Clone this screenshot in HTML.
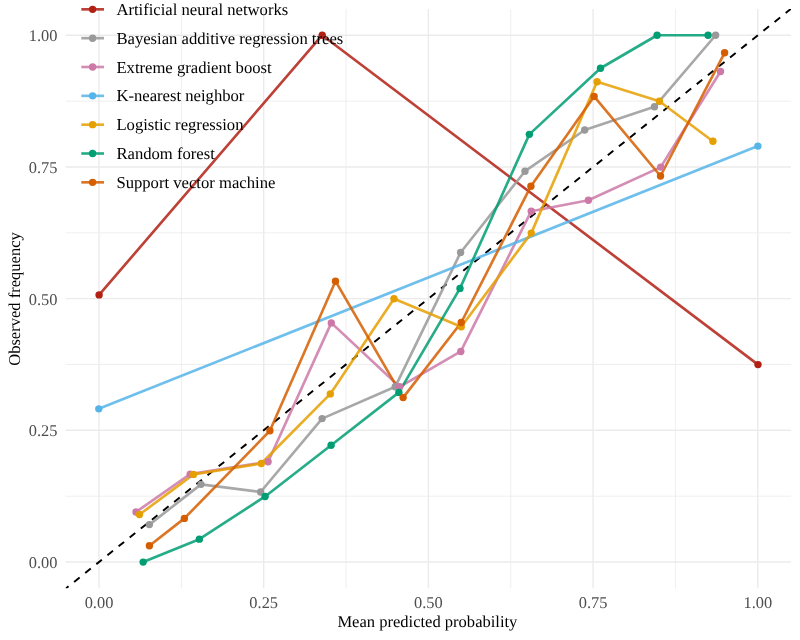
<!DOCTYPE html>
<html lang="en"><head><meta charset="utf-8"><title>Calibration plot</title>
<style>html,body{margin:0;padding:0;background:#fff}body{width:800px;height:640px;overflow:hidden}svg{display:block;will-change:transform;opacity:0.999}text{font-family:"Liberation Serif",serif;text-rendering:geometricPrecision}</style></head><body>
<svg width="800" height="640" viewBox="0 0 800 640">
<rect width="800" height="640" fill="#fff"/>
<defs><clipPath id="pc"><rect x="65.6" y="9.0" width="725.4" height="579.3"/></clipPath></defs>
<g stroke="#EBEBEB" fill="none">
<line x1="65.6" x2="791.0" y1="496.16" y2="496.16" stroke-width="0.8"/>
<line y1="9.0" y2="588.3" x1="181.35" x2="181.35" stroke-width="0.8"/>
<line x1="65.6" x2="791.0" y1="364.49" y2="364.49" stroke-width="0.8"/>
<line y1="9.0" y2="588.3" x1="346.05" x2="346.05" stroke-width="0.8"/>
<line x1="65.6" x2="791.0" y1="232.81" y2="232.81" stroke-width="0.8"/>
<line y1="9.0" y2="588.3" x1="510.75" x2="510.75" stroke-width="0.8"/>
<line x1="65.6" x2="791.0" y1="101.14" y2="101.14" stroke-width="0.8"/>
<line y1="9.0" y2="588.3" x1="675.45" x2="675.45" stroke-width="0.8"/>
<line x1="65.6" x2="791.0" y1="562.00" y2="562.00" stroke-width="1.4"/>
<line y1="9.0" y2="588.3" x1="99.00" x2="99.00" stroke-width="1.4"/>
<line x1="65.6" x2="791.0" y1="430.32" y2="430.32" stroke-width="1.4"/>
<line y1="9.0" y2="588.3" x1="263.70" x2="263.70" stroke-width="1.4"/>
<line x1="65.6" x2="791.0" y1="298.65" y2="298.65" stroke-width="1.4"/>
<line y1="9.0" y2="588.3" x1="428.40" x2="428.40" stroke-width="1.4"/>
<line x1="65.6" x2="791.0" y1="166.97" y2="166.97" stroke-width="1.4"/>
<line y1="9.0" y2="588.3" x1="593.10" x2="593.10" stroke-width="1.4"/>
<line x1="65.6" x2="791.0" y1="35.30" y2="35.30" stroke-width="1.4"/>
<line y1="9.0" y2="588.3" x1="757.80" x2="757.80" stroke-width="1.4"/>
</g>
<g clip-path="url(#pc)">
<line x1="59.47" y1="593.60" x2="797.33" y2="3.70" stroke="#000" stroke-width="1.95" stroke-dasharray="7.1 7.135" stroke-dashoffset="9.74"/>
<g fill="none" stroke-width="2.65" stroke-opacity="0.85" stroke-linejoin="round" stroke-linecap="butt">
<polyline points="99.10,294.90 322.20,35.20 758.00,364.60" stroke="#B22014"/>
<polyline points="149.40,524.60 201.00,484.35 260.60,492.00 322.10,418.60 395.20,386.80 460.60,252.50 525.00,171.20 584.70,130.00 654.50,106.80 715.60,35.25" stroke="#999999"/>
<polyline points="136.00,512.00 190.20,474.15 268.10,461.75 331.30,322.90 399.60,386.80 460.80,351.45 531.25,211.20 588.40,200.20 660.70,167.10 720.50,71.55" stroke="#CC79A7"/>
<polyline points="98.80,408.85 757.90,146.10" stroke="#56B4E9"/>
<polyline points="139.50,514.55 193.50,474.40 261.30,463.50 330.30,393.90 393.95,298.80 461.25,326.70 531.25,233.10 597.10,81.75 659.40,101.20 712.90,141.20" stroke="#E69F00"/>
<polyline points="143.15,562.10 199.35,539.15 265.10,496.45 331.10,445.30 398.90,392.40 460.00,288.40 529.35,134.35 600.50,68.25 657.10,35.25 708.10,35.25" stroke="#009E73"/>
<polyline points="149.40,545.70 184.40,518.40 269.90,430.80 335.50,281.20 403.10,397.60 461.25,322.50 530.90,186.20 594.10,96.40 660.50,176.00 724.60,52.80" stroke="#D55E00"/>
</g>
<g fill="#B22014"><circle cx="99.10" cy="294.90" r="3.7"/><circle cx="322.20" cy="35.20" r="3.7"/><circle cx="758.00" cy="364.60" r="3.7"/></g>
<g fill="#999999"><circle cx="149.40" cy="524.60" r="3.7"/><circle cx="201.00" cy="484.35" r="3.7"/><circle cx="260.60" cy="492.00" r="3.7"/><circle cx="322.10" cy="418.60" r="3.7"/><circle cx="395.20" cy="386.80" r="3.7"/><circle cx="460.60" cy="252.50" r="3.7"/><circle cx="525.00" cy="171.20" r="3.7"/><circle cx="584.70" cy="130.00" r="3.7"/><circle cx="654.50" cy="106.80" r="3.7"/><circle cx="715.60" cy="35.25" r="3.7"/></g>
<g fill="#CC79A7"><circle cx="136.00" cy="512.00" r="3.7"/><circle cx="190.20" cy="474.15" r="3.7"/><circle cx="268.10" cy="461.75" r="3.7"/><circle cx="331.30" cy="322.90" r="3.7"/><circle cx="399.60" cy="386.80" r="3.7"/><circle cx="460.80" cy="351.45" r="3.7"/><circle cx="531.25" cy="211.20" r="3.7"/><circle cx="588.40" cy="200.20" r="3.7"/><circle cx="660.70" cy="167.10" r="3.7"/><circle cx="720.50" cy="71.55" r="3.7"/></g>
<g fill="#56B4E9"><circle cx="98.80" cy="408.85" r="3.7"/><circle cx="757.90" cy="146.10" r="3.7"/></g>
<g fill="#E69F00"><circle cx="139.50" cy="514.55" r="3.7"/><circle cx="193.50" cy="474.40" r="3.7"/><circle cx="261.30" cy="463.50" r="3.7"/><circle cx="330.30" cy="393.90" r="3.7"/><circle cx="393.95" cy="298.80" r="3.7"/><circle cx="461.25" cy="326.70" r="3.7"/><circle cx="531.25" cy="233.10" r="3.7"/><circle cx="597.10" cy="81.75" r="3.7"/><circle cx="659.40" cy="101.20" r="3.7"/><circle cx="712.90" cy="141.20" r="3.7"/></g>
<g fill="#009E73"><circle cx="143.15" cy="562.10" r="3.7"/><circle cx="199.35" cy="539.15" r="3.7"/><circle cx="265.10" cy="496.45" r="3.7"/><circle cx="331.10" cy="445.30" r="3.7"/><circle cx="398.90" cy="392.40" r="3.7"/><circle cx="460.00" cy="288.40" r="3.7"/><circle cx="529.35" cy="134.35" r="3.7"/><circle cx="600.50" cy="68.25" r="3.7"/><circle cx="657.10" cy="35.25" r="3.7"/><circle cx="708.10" cy="35.25" r="3.7"/></g>
<g fill="#D55E00"><circle cx="149.40" cy="545.70" r="3.7"/><circle cx="184.40" cy="518.40" r="3.7"/><circle cx="269.90" cy="430.80" r="3.7"/><circle cx="335.50" cy="281.20" r="3.7"/><circle cx="403.10" cy="397.60" r="3.7"/><circle cx="461.25" cy="322.50" r="3.7"/><circle cx="530.90" cy="186.20" r="3.7"/><circle cx="594.10" cy="96.40" r="3.7"/><circle cx="660.50" cy="176.00" r="3.7"/><circle cx="724.60" cy="52.80" r="3.7"/></g>
</g>
<g fill="#4D4D4D" font-size="16.4">
<text x="57.5" y="568.00" text-anchor="end">0.00</text>
<text x="99.00" y="608" text-anchor="middle">0.00</text>
<text x="57.5" y="436.32" text-anchor="end">0.25</text>
<text x="263.70" y="608" text-anchor="middle">0.25</text>
<text x="57.5" y="304.65" text-anchor="end">0.50</text>
<text x="428.40" y="608" text-anchor="middle">0.50</text>
<text x="57.5" y="172.97" text-anchor="end">0.75</text>
<text x="593.10" y="608" text-anchor="middle">0.75</text>
<text x="57.5" y="41.30" text-anchor="end">1.00</text>
<text x="757.80" y="608" text-anchor="middle">1.00</text>
</g>
<text x="427.4" y="627.1" text-anchor="middle" font-size="16.55" fill="#000">Mean predicted probability</text>
<text transform="translate(20.4,299.0) rotate(-90)" text-anchor="middle" font-size="16.55" fill="#000">Observed frequency</text>
<g font-size="16.65" fill="#000">
<line x1="81.3" x2="104" y1="9.35" y2="9.35" stroke="#B22014" stroke-opacity="0.85" stroke-width="2.65"/>
<circle cx="92.6" cy="9.35" r="3.7" fill="#B22014"/>
<text x="116.4" y="14.85">Artificial neural networks</text>
<line x1="81.3" x2="104" y1="38.18" y2="38.18" stroke="#999999" stroke-opacity="0.85" stroke-width="2.65"/>
<circle cx="92.6" cy="38.18" r="3.7" fill="#999999"/>
<text x="116.4" y="43.68">Bayesian additive regression trees</text>
<line x1="81.3" x2="104" y1="67.01" y2="67.01" stroke="#CC79A7" stroke-opacity="0.85" stroke-width="2.65"/>
<circle cx="92.6" cy="67.01" r="3.7" fill="#CC79A7"/>
<text x="116.4" y="72.51">Extreme gradient boost</text>
<line x1="81.3" x2="104" y1="95.84" y2="95.84" stroke="#56B4E9" stroke-opacity="0.85" stroke-width="2.65"/>
<circle cx="92.6" cy="95.84" r="3.7" fill="#56B4E9"/>
<text x="116.4" y="101.34">K-nearest neighbor</text>
<line x1="81.3" x2="104" y1="124.67" y2="124.67" stroke="#E69F00" stroke-opacity="0.85" stroke-width="2.65"/>
<circle cx="92.6" cy="124.67" r="3.7" fill="#E69F00"/>
<text x="116.4" y="130.17">Logistic regression</text>
<line x1="81.3" x2="104" y1="153.50" y2="153.50" stroke="#009E73" stroke-opacity="0.85" stroke-width="2.65"/>
<circle cx="92.6" cy="153.50" r="3.7" fill="#009E73"/>
<text x="116.4" y="159.00">Random forest</text>
<line x1="81.3" x2="104" y1="182.33" y2="182.33" stroke="#D55E00" stroke-opacity="0.85" stroke-width="2.65"/>
<circle cx="92.6" cy="182.33" r="3.7" fill="#D55E00"/>
<text x="116.4" y="187.83">Support vector machine</text>
</g>
</svg></body></html>
